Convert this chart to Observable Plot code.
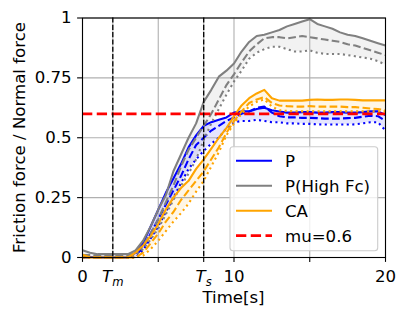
<!DOCTYPE html>
<html>
<head>
<meta charset="utf-8">
<script src="https://cdn.jsdelivr.net/npm/d3@7"></script>
<script src="https://cdn.jsdelivr.net/npm/@observablehq/plot@0.6"></script>
<style>
  html, body { margin: 0; padding: 0; background: white; }
  #chart { width: 407px; height: 321px; }
</style>
</head>
<body>
<div id="chart"></div>
<script>
// ---------- data ----------
const time = [0,0.5,1,1.5,2,2.5,3,3.5,4,4.5,5,5.5,6,6.5,7,7.5,8,8.5,9,9.5,10,10.5,11,11.5,12,12.5,13,13.5,14,14.5,15,15.5,16,16.5,17,17.5,18,18.5,19,19.5,20];

// P (blue): upper (solid), middle (dashed), lower (dotted)
const pHi  = [0.003,0.002,0,0,0,0,0,0.02,0.06,0.13,0.2,0.27,0.33,0.39,0.46,0.51,0.55,0.565,0.575,0.585,0.605,0.61,0.61,0.62,0.625,0.615,0.61,0.605,0.605,0.607,0.607,0.605,0.605,0.607,0.607,0.605,0.605,0.607,0.61,0.61,0.595];
const pMid = [0,0,0,0,0,0,0,0.01,0.04,0.1,0.16,0.22,0.28,0.34,0.41,0.47,0.5,0.53,0.55,0.57,0.585,0.6,0.61,0.625,0.63,0.605,0.59,0.585,0.585,0.583,0.583,0.582,0.58,0.58,0.58,0.582,0.583,0.588,0.592,0.59,0.57];
const pLo  = [0,0,0,0,0,0,0,0,0.03,0.08,0.13,0.19,0.25,0.31,0.37,0.41,0.445,0.475,0.5,0.54,0.565,0.57,0.57,0.575,0.57,0.565,0.565,0.56,0.56,0.558,0.558,0.556,0.555,0.555,0.555,0.555,0.556,0.56,0.565,0.565,0.53];

// P(High Fc) (gray)
const hHi  = [0.03,0.02,0.014,0.014,0.014,0.014,0.014,0.03,0.07,0.13,0.2,0.26,0.36,0.43,0.5,0.56,0.65,0.7,0.755,0.78,0.81,0.86,0.9,0.925,0.93,0.94,0.95,0.965,0.975,0.985,0.995,0.975,0.965,0.955,0.94,0.93,0.925,0.915,0.905,0.895,0.885];
const hMid = [0.01,0.01,0.008,0.008,0.008,0.008,0.008,0.02,0.05,0.1,0.16,0.23,0.3,0.38,0.45,0.5,0.55,0.6,0.66,0.72,0.765,0.815,0.86,0.89,0.915,0.92,0.92,0.915,0.92,0.925,0.92,0.915,0.91,0.905,0.9,0.89,0.885,0.875,0.865,0.855,0.845];
const hLo  = [0.005,0.005,0.005,0.005,0.005,0.005,0.005,0.012,0.035,0.075,0.12,0.18,0.24,0.3,0.35,0.41,0.49,0.56,0.62,0.68,0.735,0.78,0.83,0.855,0.87,0.88,0.88,0.87,0.86,0.86,0.865,0.855,0.85,0.85,0.85,0.845,0.84,0.835,0.83,0.82,0.805];

// CA (orange)
const cHi  = [0.012,0,0,0,0,0,0,0.02,0.05,0.09,0.14,0.2,0.25,0.29,0.32,0.37,0.41,0.455,0.5,0.54,0.59,0.635,0.665,0.685,0.7,0.665,0.655,0.655,0.655,0.655,0.658,0.66,0.658,0.658,0.66,0.66,0.658,0.656,0.656,0.656,0.656];
const cMid = [0,0,0,0,0,0,0,0,0.02,0.06,0.1,0.15,0.19,0.24,0.28,0.32,0.36,0.41,0.46,0.52,0.57,0.61,0.645,0.66,0.67,0.645,0.635,0.632,0.63,0.63,0.632,0.63,0.63,0.63,0.63,0.628,0.628,0.625,0.622,0.62,0.615];
const cLo  = [0,0,0,0,0,0,0,0,0.008,0.035,0.07,0.11,0.15,0.185,0.225,0.275,0.32,0.38,0.44,0.51,0.56,0.6,0.63,0.65,0.66,0.63,0.615,0.612,0.61,0.61,0.61,0.61,0.61,0.61,0.61,0.61,0.61,0.61,0.61,0.61,0.61];

const mu = 0.6;
const Tm = 2, Ts = 8;
const xTicks = [0, 2, 5, 8, 10, 15, 20];
const xTickLabels = ["0", "Tm", "", "Ts", "10", "", "20"];
const yTicks = [0, 0.25, 0.5, 0.75, 1];
const yTickLabels = ["0", "0.25", "0.5", "0.75", "1"];
const seriesNames = ["P", "P(High Fc)", "CA"];
const seriesColors = ["blue", "gray", "orange"];
const muLabel = "mu=0.6";

// ---------- build tables ----------
function table(hi, mid, lo) {
  return time.map((t, i) => ({t, hi: hi[i], mid: mid[i], lo: lo[i]}));
}
const groups = [table(pHi, pMid, pLo), table(hHi, hMid, hLo), table(cHi, cMid, cLo)];

const LW = 2.08;
const fills = groups.map((g, k) => Plot.areaY(g, {x: "t", y1: "lo", y2: "hi", fill: seriesColors[k], fillOpacity: 0.1}));
const lines = groups.flatMap((g, k) => [
  Plot.lineY(g, {x: "t", y: "hi", stroke: seriesColors[k], strokeWidth: LW, strokeLinejoin: "round", strokeLinecap: "butt"}),
  Plot.lineY(g, {x: "t", y: "mid", stroke: seriesColors[k], strokeWidth: LW, strokeDasharray: "7.7,3.3", strokeLinecap: "butt"}),
  Plot.lineY(g, {x: "t", y: "lo", stroke: seriesColors[k], strokeWidth: LW, strokeDasharray: "2.1,3.4", strokeLinecap: "butt"})
]);

const xFmt = new Map(xTicks.map((d, i) => [d, xTickLabels[i]]));
const yFmt = new Map(yTicks.map((d, i) => [d, yTickLabels[i]]));

const chart = Plot.plot({
  width: 407,
  height: 321,
  marginLeft: 82,
  marginRight: 22,
  marginTop: 17.5,
  marginBottom: 64,
  style: {fontFamily: "DejaVu Sans", fontSize: "16.6px", background: "white", color: "black"},
  x: {domain: [0, 20]},
  y: {domain: [0, 1]},
  marks: [
    ...fills,
    Plot.gridX(xTicks, {stroke: "#b0b0b0", strokeOpacity: 1, strokeWidth: 1.1}),
    Plot.gridY(yTicks, {stroke: "#b0b0b0", strokeOpacity: 1, strokeWidth: 1.1}),
    ...lines,
    Plot.ruleY([mu], {stroke: "red", strokeWidth: 2.78, strokeDasharray: "10.3,4.45"}),
    Plot.ruleX([Tm, Ts], {stroke: "black", strokeWidth: 1.3, strokeDasharray: "5.1,2.2"}),
    Plot.axisX(xTicks, {tickFormat: d => xFmt.get(d), tickSize: 4.9, tickPadding: 7.5, label: null, strokeWidth: 1.1}),
    Plot.axisY(yTicks, {tickFormat: d => yFmt.get(d), tickSize: 4.9, tickPadding: 6, label: null, strokeWidth: 1.1}),
    Plot.frame({stroke: "black", strokeWidth: 1.1})
  ]
});

document.getElementById("chart").appendChild(chart);

// ---------- post-processing: subscripts, axis titles, legend ----------
const svg = d3.select(chart);
svg.selectAll('g[aria-label="x-axis tick label"] text').each(function() {
  const s = this.textContent;
  if (s === "Tm" || s === "Ts") {
    const el = d3.select(this);
    el.text(null);
    el.append("tspan").attr("font-style", "italic").text("T");
    el.append("tspan").attr("font-style", "italic").attr("font-size", "11.6px").attr("dy", "4").text(s.slice(1));
  }
});

svg.append("text")
  .attr("x", 233.5).attr("y", 303)
  .attr("text-anchor", "middle")
  .attr("font-family", "DejaVu Sans").attr("font-size", "16.6px")
  .text("Time[s]");

svg.append("text")
  .attr("transform", "translate(24.5,137.5) rotate(-90)")
  .attr("text-anchor", "middle")
  .attr("font-family", "DejaVu Sans").attr("font-size", "16.6px")
  .text("Friction force / Normal force");

const leg = svg.append("g").attr("font-family", "DejaVu Sans").attr("font-size", "16.6px").attr("text-anchor", "start");
leg.append("rect")
  .attr("x", 230).attr("y", 146.7).attr("width", 147.7).attr("height", 104)
  .attr("rx", 3).attr("fill", "white").attr("fill-opacity", 0.8)
  .attr("stroke", "#cccccc").attr("stroke-width", 1.1);
const legItems = seriesNames.map((n, k) => ({name: n, color: seriesColors[k], dash: null, w: LW}))
  .concat([{name: muLabel, color: "red", dash: "10.3,4.45", w: 2.78}]);
legItems.forEach((it, k) => {
  const y = 160.7 + 25 * k;
  leg.append("line").attr("x1", 236).attr("x2", 272).attr("y1", y).attr("y2", y)
    .attr("stroke", it.color).attr("stroke-width", it.w)
    .attr("stroke-dasharray", it.dash);
  leg.append("text").attr("x", 285).attr("y", y).attr("dy", "0.36em")
    .attr("text-anchor", "start").text(it.name);
});
</script>
</body>
</html>
